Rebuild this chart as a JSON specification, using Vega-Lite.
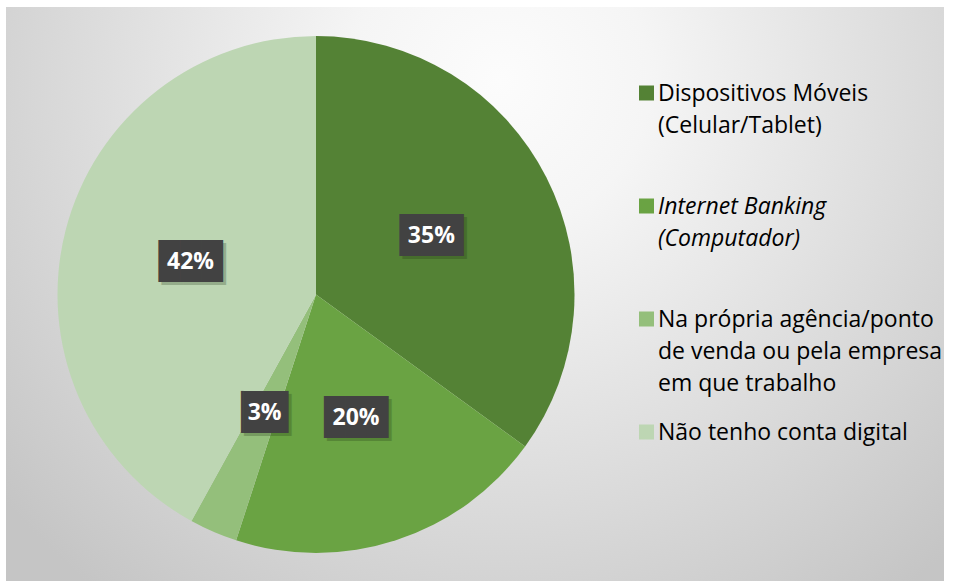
{
  "$schema": "https://vega.github.io/schema/vega-lite/v6.json",
  "background": "white",
  "padding": {"left": 6, "top": 7, "right": 14, "bottom": 0},
  "spacing": 0,
  "data": {"values": [
    {"cat": "Dispositivos Móveis (Celular/Tablet)", "pct": 0.35},
    {"cat": "Internet Banking (Computador)", "pct": 0.20},
    {"cat": "Na própria agência/ponto de venda ou pela empresa em que trabalho", "pct": 0.03},
    {"cat": "Não tenho conta digital", "pct": 0.42}
  ]},
  "config": {
    "view": {"stroke": null},
    "style": {"guide-label": {"lineHeight": 32, "dy": -10}}
  },
  "hconcat": [
    {
      "width": 620,
      "height": 575,
      "view": {"stroke": null, "fill": {"gradient": "radial", "x1": 0.7968, "y1": 0.154, "r1": 0, "x2": 0.7968, "y2": 0.154, "r2": 1.0484,
        "stops": [{"offset": 0, "color": "#fcfcfc"}, {"offset": 0.23, "color": "#f5f5f5"}, {"offset": 1, "color": "#c5c5c5"}]}},
      "encoding": {"theta": {"field": "pct", "type": "quantitative", "stack": true}},
      "layer": [
        {
          "mark": {"type": "arc", "outerRadius": 258.5},
          "encoding": {
            "color": {
              "field": "cat", "type": "nominal",
              "scale": {"domain": ["Dispositivos Móveis (Celular/Tablet)", "Internet Banking (Computador)", "Na própria agência/ponto de venda ou pela empresa em que trabalho", "Não tenho conta digital"],
                        "range": ["#548235", "#6aa343", "#94bf7b", "#bdd6b3"]},
              "legend": {
                "orient": "none", "legendX": 629, "legendY": 74.5,
                "title": null,
                "symbolType": "square", "symbolSize": 225, "symbolStrokeWidth": 0, "symbolOpacity": 1,
                "labelFont": "Open Sans", "labelFontSize": 23, "labelColor": "#000000",
                "labelLimit": 600, "labelBaseline": "top", "labelOffset": 0,
                "rowPadding": 24, "gridAlign": "all",
                "labelExpr": "datum.value == 'Dispositivos Móveis (Celular/Tablet)' ? ['Dispositivos Móveis', '(Celular/Tablet)'] : datum.value == 'Internet Banking (Computador)' ? ['Internet Banking', '(Computador)'] : datum.value == 'Na própria agência/ponto de venda ou pela empresa em que trabalho' ? ['Na própria agência/ponto', 'de venda ou pela empresa', 'em que trabalho'] : datum.label",
                "encoding": {
                  "labels": {
                    "dy": {"value": -10},
                    "lineHeight": {"value": 32},
                    "fontStyle": {"value": {"expr": "datum.value == 'Internet Banking (Computador)' ? 'italic' : 'normal'"}}
                  }
                }
              }
            }
          }
        },
        {
          "mark": {"type": "text", "radius": 129.5, "font": "DejaVu Sans Mono", "fontSize": 35.4, "color": "#1f3312", "opacity": 0.25, "dx": 3, "dy": 3, "baseline": "middle", "align": "center"},
          "encoding": {
            "order": {"field": "cat", "type": "nominal"},
            "text": {"condition": {"test": "datum.pct < 0.05", "value": "▕██▏"}, "value": "███"}
          }
        },
        {
          "mark": {"type": "text", "radius": 129.5, "font": "DejaVu Sans Mono", "fontSize": 35.4, "color": "#424242", "baseline": "middle", "align": "center"},
          "encoding": {
            "order": {"field": "cat", "type": "nominal"},
            "text": {"condition": {"test": "datum.pct < 0.05", "value": "▕██▏"}, "value": "███"}
          }
        },
        {
          "mark": {"type": "text", "radius": 129.5, "font": "Open Sans", "fontSize": 23, "fontWeight": "bold", "color": "#ffffff", "baseline": "middle", "align": "center"},
          "encoding": {
            "order": {"field": "cat", "type": "nominal"},
            "text": {"field": "pct", "type": "quantitative", "format": ".0%"}
          }
        }
      ]
    },
    {
      "width": 318,
      "height": 575,
      "view": {"stroke": null, "fill": {"gradient": "radial", "x1": 0.00435, "y1": 0.127, "r1": 0, "x2": 0.00435, "y2": 0.127, "r2": 1.1304,
        "stops": [{"offset": 0, "color": "#fcfcfc"}, {"offset": 0.23, "color": "#f5f5f5"}, {"offset": 1, "color": "#c5c5c5"}]}},
      "data": {"values": []},
      "mark": "point"
    }
  ]
}
